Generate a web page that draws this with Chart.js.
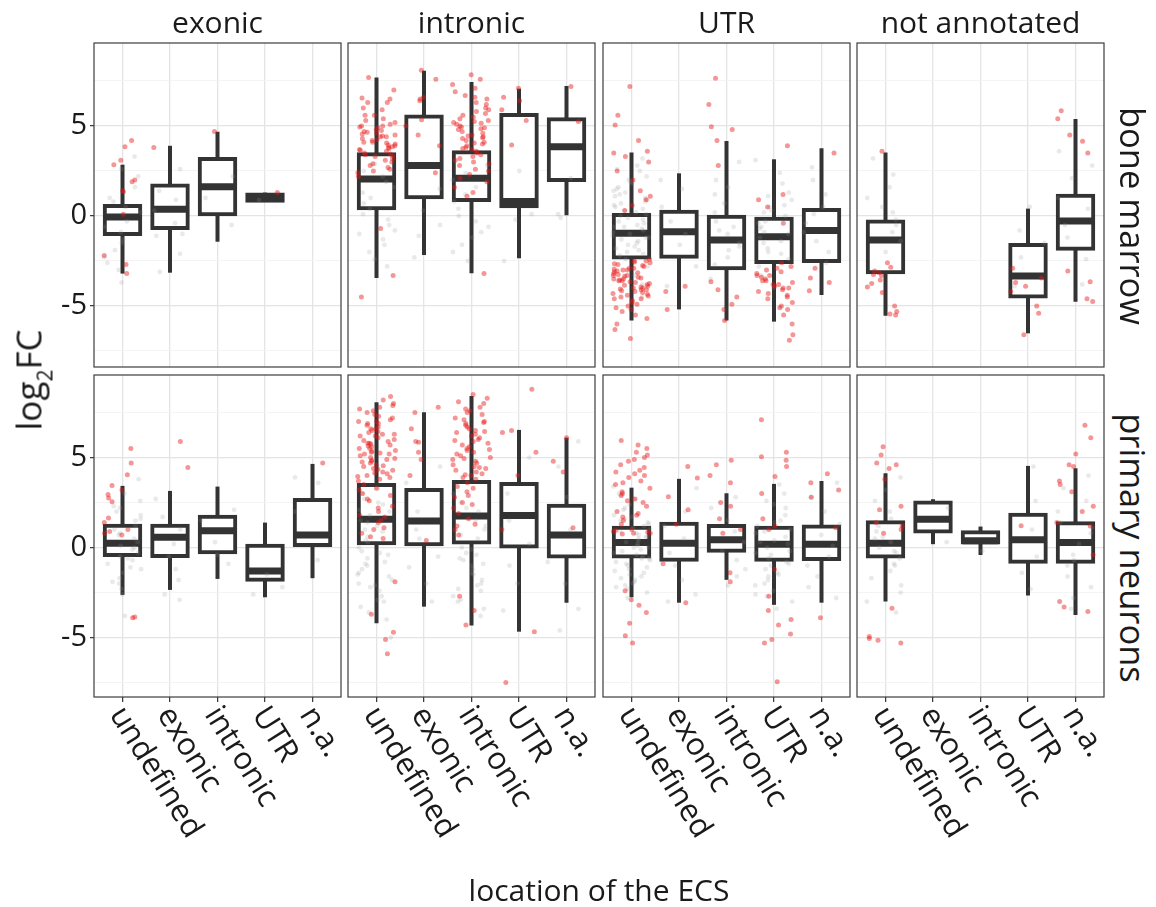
<!DOCTYPE html>
<html>
<head>
<meta charset="utf-8">
<script src="https://cdn.jsdelivr.net/npm/chart.js@4.4.1/dist/chart.umd.min.js"></script>
<style>
  html, body { margin: 0; background: #fff; }
  #fig { position: relative; width: 1156px; height: 907px; overflow: hidden; font-family: 'Open Sans', sans-serif; color: #1a1a1a; }
  .lbl { position: absolute; white-space: nowrap; line-height: 1; }
  .sub { font-size: 0.6em; position: relative; top: 0.5em; }
</style>
</head>
<body>
<div id="fig"></div>
<script>
const locations = ['undefined', 'exonic', 'intronic', 'UTR', 'n.a.'];
const ecsTypes = ['exonic', 'intronic', 'UTR', 'not annotated'];
const tissues = ['bone marrow', 'primary neurons'];
const yMajor = [-5, 0, 5];
const yMinor = [-7.5, -2.5, 2.5, 7.5];

// box stats per location: [lower whisker, Q1, median, Q3, upper whisker], null = no ECS
// *Sig = significant ECS (red), *Rest = the others (grey)

// bone marrow
const bmExonicBox = [
  [-3.2, -1.0, -0.05, 0.55, 2.85],
  [-3.15, -0.67, 0.37, 1.7, 3.9],
  [-1.43, 0.1, 1.63, 3.17, 4.68],
  [0.8, 0.85, 1.02, 1.2, 1.3],
  null
];
const bmExonicSig = [
  [4.2, 3.85, 3.1, 2.85, 2.0, 1.9, 1.4, 1.35, 0.1, -2.2, -2.7, -3.2],
  [3.8],
  [4.7],
  [1.3],
  []
];
const bmExonicRest = [
  [3.3, 2.6, 2.2, 1.6, 1.0, 0.8, 0.5, 0.2, -0.3, -0.6, -0.9, -1.3, -1.5, -1.9, -2.3, -2.6, -3.0, -3.7],
  [2.6, 1.4, 0.9, 0.3, -0.4, -1.0, -1.1, -2.1, -3.1],
  [2.2, 1.0, -0.5],
  [0.9],
  []
];

const bmIntronicBox = [
  [-3.45, 0.43, 2.06, 3.43, 7.7],
  [-2.17, 1.04, 2.8, 5.52, 8.07],
  [-3.18, 0.89, 2.09, 3.54, 7.44],
  [-2.35, 0.54, 0.8, 5.61, 7.07],
  [0.0, 2.0, 3.85, 5.37, 7.22]
];
const bmIntronicSig = [
  [7.7, 7.0, 6.55, 6.5, 6.3, 6.0, 5.9, 5.6, 5.4, 5.3, 5.2, 5.1, 5.0, 4.95, 4.9, 4.8, 4.7, 4.65, 4.6, 4.5,
   4.45, 4.4, 4.3, 4.25, 4.2, 4.1, 4.05, 4.0, 3.95, 3.9, 3.8, 3.75, 3.7, 3.6, 3.5, 3.45, 3.4, 3.3, 3.2, 3.1,
   3.0, 2.9, 2.8, 2.7, 2.6, 2.5, 2.4, 2.2, 4.4, 4.1, 3.85, 3.65, 3.35, 5.0, 4.75, 4.55, 6.3, 5.6,
   -0.7, -3.3, -4.5],
  [8.1, 7.6, 6.6, 6.5, 6.4, 5.35, 5.0, 4.5, 3.9, 2.4],
  [7.85, 7.6, 7.3, 7.1, 6.9, 6.7, 6.6, 6.5, 6.3, 6.2, 6.0, 5.9, 5.8, 5.7, 5.6, 5.5, 5.4, 5.3, 5.2, 5.15,
   5.1, 5.0, 4.9, 4.85, 4.8, 4.7, 4.6, 4.5, 4.45, 4.4, 4.3, 4.2, 4.1, 4.0, 3.9, 3.8, 3.7, 3.6, 3.5, 3.4,
   3.3, 3.2, 3.1, 3.0, 2.9, 2.8, 2.6, 2.5, 2.3, 2.1, 1.9, 1.6, 1.3, 1.1, 4.35, 4.05, 3.75, 5.25, 4.95,
   -3.2],
  [7.1, 6.6, 6.4, 5.9, 5.3, 3.95],
  [7.2, 5.25]
];
const bmIntronicRest = [
  [2.9, 2.5, 2.2, 1.9, 1.6, 1.3, 1.0, 0.7, 0.4, 0.1, -0.2, -0.5, -0.8, -1.0, -1.3, -1.6, -2.0, -2.4, -2.8],
  [1.5, 0.3, -0.5, -1.1, -2.3],
  [2.8, 2.4, 2.0, 1.6, 1.2, 0.8, 0.4, 0.0, -0.3, -0.6, -0.9, -1.2, -1.6, -2.0, -2.5],
  [2.5, 0.1, -0.2, -2.5],
  [2.1, 0.1, -0.1]
];

const bmUtrBox = [
  [-5.81, -2.3, -0.96, 0.06, 3.52],
  [-5.19, -2.26, -0.87, 0.24, 2.37],
  [-5.81, -2.91, -1.33, 0.0, 4.17],
  [-5.87, -2.56, -1.15, -0.15, 3.15],
  [-4.39, -2.5, -0.81, 0.33, 3.76]
];
const bmUtrSig = [
  [7.2, 5.6, 5.05, 4.2, 3.6, 3.5, 3.3, 3.0, 2.5, 2.0, 1.4, 1.1, 0.9, 0.6, 0.3, -2.4, -2.5, -2.6, -2.7, -2.8,
   -2.9, -3.0, -3.05, -3.1, -3.2, -3.25, -3.3, -3.4, -3.45, -3.5, -3.6, -3.65, -3.7, -3.8, -3.85, -3.9, -4.0,
   -4.05, -4.1, -4.2, -4.3, -4.35, -4.4, -4.5, -4.6, -4.7, -4.8, -4.9, -5.0, -5.1, -5.3, -5.5, -5.7, -6.0,
   -6.3, -6.8, -2.55, -2.75, -2.95, -3.15, -3.35, -3.55, -3.75, -3.95, -4.15, -4.25, -4.45, -2.65, -3.0,
   -3.5, -4.0, -3.3, -2.9, -3.6, -4.1, -2.5, -4.6, -5.2],
  [-3.9, -4.2, -5.2],
  [7.65, 6.2, 4.96, 4.8, 4.2, 2.8, -3.65, -4.1, -4.5, -4.9, -5.2, -5.8],
  [3.9, 1.2, 0.9, 0.5, -0.4, -2.6, -2.8, -3.0, -3.2, -3.3, -3.5, -3.6, -3.7, -3.8, -3.9, -4.0, -4.1, -4.2,
   -4.4, -4.6, -4.8, -5.0, -5.2, -5.5, -6.0, -6.6, -6.9, -3.1, -3.4, -3.6, -4.0, -4.3, -2.9, -3.8, -4.5,
   -5.1, -3.3],
  [3.5, -2.9, -3.45, -3.7, -4.15]
];
const bmUtrRest = [
  [3.2, 2.8, 2.5, 2.2, 2.0, 1.8, 1.6, 1.4, 1.2, 1.1, 1.0, 0.8, 0.7, 0.6, 0.4, 0.3, 0.2, 0.0, -0.1, -0.2,
   -0.4, -0.5, -0.6, -0.8, -0.9, -1.0, -1.2, -1.3, -1.4, -1.6, -1.7, -1.8, -2.0, -2.2, -2.4, -2.8, -3.3,
   -3.8, -4.5, 2.6, 1.9, 1.5, 0.9, 0.5, 0.1, -0.3, -0.7, -1.1, -1.5, -1.9, -2.1, 1.3, -0.6, -1.2],
  [2.0, 1.5, 0.5, -0.3, -1.0, -1.6, -2.8, -3.9],
  [3.0, 2.0, 1.2, 0.7, 0.2, -0.3, -0.6, -1.0, -1.5, -1.9, -2.3, -2.7, -3.5, 1.6, -0.8, -1.7],
  [3.1, 2.4, 1.8, 1.3, 0.9, 0.6, 0.5, 0.3, 0.0, -0.3, -0.4, -0.6, -0.9, -1.0, -1.2, -1.5, -1.8, -2.1,
   -2.4, -2.8, -3.3, -4.0, 1.1, 0.2, -0.7, -1.4, -2.0],
  [2.7, 2.0, 1.2, 0.5, 0.1, -0.4, -0.9, -1.4, -2.0, -2.6]
];

const bmNaBox = [
  [-5.54, -3.13, -1.33, -0.3, 3.52],
  null,
  null,
  [-6.52, -4.48, -3.33, -1.61, 0.41],
  [-4.76, -1.82, -0.28, 1.13, 5.39]
];
const bmNaSig = [
  [3.6, -2.6, -2.85, -3.05, -3.15, -3.25, -3.3, -3.55, -3.75, -3.95, -4.25, -5.0, -5.3, -5.45, -5.5],
  [],
  [],
  [-2.9, -3.45, -3.7, -3.9, -4.2, -5.0, -5.4, -6.6],
  [5.85, 5.4, 4.5, 4.15, 3.5, -3.05, -3.65, -4.6, -4.75]
];
const bmNaRest = [
  [3.2, 2.3, 1.6, 1.0, 0.5, 0.2, -0.2, -0.5, -0.9, -1.4, -2.0],
  [],
  [],
  [0.5, -0.8, -1.5, -2.3, -3.9],
  [3.6, 2.8, 2.1, 1.0, 0.4, -0.5, -1.2, -2.4, -3.8]
];

// primary neurons
const pnExonicBox = [
  [-2.63, -0.41, 0.24, 1.22, 3.43],
  [-2.35, -0.46, 0.58, 1.22, 3.15],
  [-1.74, -0.26, 0.94, 1.72, 3.39],
  [-2.76, -1.79, -1.3, 0.11, 1.39],
  [-1.7, 0.15, 0.7, 2.65, 4.65]
];
const pnExonicSig = [
  [5.5, 4.7, 4.05, 3.45, 3.2, 2.95, 2.75, 2.55, 1.65, 1.4, 1.0, 0.9, 0.8, 0.7, -3.85, -3.9],
  [5.9, 4.45],
  [],
  [],
  [4.7]
];
const pnExonicRest = [
  [3.8, 3.0, 2.6, 2.3, 2.0, 1.8, 1.5, 1.2, 1.0, 0.7, 0.5, 0.3, 0.1, -0.1, -0.3, -0.5, -0.7, -0.9, -1.1,
   -1.4, -1.7, -2.0, -2.3, -2.6, -3.8, 2.2, 1.6, 0.8, 0.0, -0.6, -1.2, -1.9],
  [2.7, 1.7, 1.0, 0.2, -0.5, -1.2, -1.8, -2.6, -2.9],
  [2.1, 1.5, 0.3, -0.4, -0.9],
  [-1.5, -2.2, -2.6],
  [3.9, 3.6, 2.0, -0.7]
];

const pnIntronicBox = [
  [-4.2, 0.24, 1.58, 3.48, 8.07],
  [-3.28, 0.19, 1.48, 3.2, 7.52],
  [-4.33, 0.28, 1.76, 3.65, 8.43],
  [-4.67, 0.06, 1.78, 3.54, 6.54],
  [-3.06, -0.5, 0.7, 2.33, 6.11]
];
const pnIntronicSig = [
  [8.4, 8.2, 8.0, 7.8, 7.7, 7.6, 7.5, 7.4, 7.3, 7.2, 7.1, 7.0, 6.9, 6.8, 6.7, 6.6, 6.5, 6.45, 6.4, 6.3,
   6.2, 6.1, 6.0, 5.95, 5.9, 5.8, 5.7, 5.65, 5.6, 5.5, 5.4, 5.35, 5.3, 5.2, 5.1, 5.0, 4.95, 4.9, 4.8, 4.7,
   4.6, 4.5, 4.4, 4.3, 4.2, 4.1, 4.0, 3.9, 3.7, 3.5, 3.2, 2.9, 2.6, 2.3, 2.0, 1.7, 1.4, 1.1, 0.8, 0.5,
   7.9, 7.0, 6.6, 6.2, 5.8, 5.5, 5.2, 4.85, 4.55, 4.35, 4.15, 3.95, 3.8, 6.9, 6.3, 5.75, 5.25, 4.75,
   3.3, 3.0, 2.7, 2.2, 1.8, 1.5, 1.0, 0.6, -1.9, -3.7, -4.7, -5.1, -5.9],
  [7.8, 7.5, 6.6, 5.9, 5.85, 5.3, 4.9, 4.0, 0.4],
  [8.5, 8.3, 8.1, 8.0, 7.8, 7.6, 7.5, 7.4, 7.2, 7.1, 7.0, 6.9, 6.8, 6.7, 6.6, 6.5, 6.4, 6.3, 6.2, 6.1,
   6.0, 5.9, 5.8, 5.7, 5.6, 5.5, 5.4, 5.3, 5.2, 5.1, 5.0, 4.9, 4.8, 4.7, 4.6, 4.5, 4.4, 4.3, 4.2, 4.1,
   4.0, 3.9, 3.8, 3.6, 3.4, 3.1, 2.8, 2.5, 2.2, 1.9, 1.6, 1.3, 1.0, 0.7, 7.7, 6.95, 6.45, 5.95, 5.45,
   4.95, 4.45, 4.05, 3.3, 2.9, 2.4, 1.2, -2.7, -3.5, -4.3],
  [8.8, 6.5, 6.4, 5.3, 4.0, 1.0, -4.67, -7.5],
  [6.1, 4.8, 4.2, 1.1]
];
const pnIntronicRest = [
  [3.3, 3.0, 2.7, 2.5, 2.4, 2.1, 2.0, 1.8, 1.5, 1.2, 1.0, 0.9, 0.6, 0.3, 0.0, -0.2, -0.3, -0.6, -0.8,
   -0.9, -1.2, -1.4, -1.5, -1.8, -2.0, -2.1, -2.4, -2.7, -3.0, -3.3, -3.6, -4.0, -5.0, -0.4, -1.0, -1.6,
   -2.2, -2.9, 0.4, 1.4],
  [4.5, 3.6, 2.0, 1.0, 0.5, -0.5, -1.1, -2.0, -3.0],
  [3.0, 2.5, 2.2, 2.0, 1.5, 1.2, 1.0, 0.5, 0.0, -0.1, -0.3, -0.6, -0.7, -0.9, -1.0, -1.2, -1.5, -1.8,
   -2.0, -2.1, -2.4, -2.7, -3.0, -3.4, -3.8, -0.4, -1.4, -2.3, -2.9, 0.7],
  [5.0, 3.0, 1.5, 0.2, -1.0, -2.0, -3.5],
  [5.9, 4.5, 2.8, 1.0, -0.8, -2.0, -3.4, -4.6]
];

const pnUtrBox = [
  [-2.76, -0.5, 0.28, 1.11, 3.33],
  [-3.06, -0.68, 0.24, 1.32, 3.82],
  [-1.79, -0.18, 0.43, 1.2, 3.02],
  [-3.18, -0.68, 0.19, 1.11, 3.54],
  [-3.06, -0.63, 0.19, 1.17, 3.7]
];
const pnUtrSig = [
  [5.95, 5.7, 5.3, 5.15, 5.0, 4.8, 4.6, 4.45, 4.3, 4.2, 4.0, 3.9, 3.7, 3.5, 3.3, 3.1, 2.9, 2.7, 2.5, 2.3,
   2.0, 1.8, 1.5, 1.3, 1.0, 0.9, 0.85, 0.8, 0.75, 5.5, 4.9, 4.1, 3.6, 3.0, 2.6, 1.9, 1.7, 0.95, 0.8,
   -2.4, -2.9, -3.2, -3.6, -4.2, -4.9, -5.3],
  [4.5, 3.87, 2.83, 2.1, 1.3, -0.9, -3.06],
  [4.85, 4.6, 4.0, 3.6, 2.5, 2.3, 1.6, 1.0, 0.8, -1.4, -1.9],
  [7.1, 5.3, 5.05, 4.85, 4.5, 3.95, 3.0, 1.6, 1.2, 1.0, -1.2, -2.7, -3.5, -4.0, -4.3, -4.8, -5.1, -5.3, -7.45],
  [4.1, 3.6, 3.2, 2.8, 1.1, -3.9]
];
const pnUtrRest = [
  [3.4, 3.0, 2.7, 2.4, 2.1, 1.8, 1.6, 1.4, 1.3, 1.2, 1.0, 0.9, 0.8, 0.6, 0.5, 0.4, 0.2, 0.1, 0.0, -0.2,
   -0.3, -0.4, -0.6, -0.7, -0.8, -1.0, -1.2, -1.4, -1.5, -1.6, -1.8, -2.0, -2.1, -2.2, -2.5, -2.8,
   2.9, 2.2, 1.7, 1.1, 0.7, 0.3, -0.1, -0.5, -0.9, -1.3, -1.7, -2.3, 0.6, 0.0, -0.6, -1.1, 1.5, -1.9],
  [3.3, 2.0, 1.2, 0.5, -0.3, -1.0, -1.8, -2.6, -3.0],
  [2.8, 2.2, 1.5, 0.9, 0.3, -0.2, -0.7, -1.2, -1.6, -2.1],
  [3.5, 3.0, 2.6, 2.2, 1.8, 1.5, 1.4, 1.2, 0.9, 0.8, 0.6, 0.3, 0.2, 0.0, -0.3, -0.4, -0.6, -0.9, -1.0,
   -1.2, -1.5, -1.6, -1.8, -2.1, -2.4, -2.7, -3.0, -3.4, 2.4, 1.0, 0.4, -0.2, -0.8, -1.4, -2.0, -2.6],
  [3.6, 2.8, 2.0, 1.3, 0.7, 0.1, -0.5, -1.0, -1.6, -2.2, -2.8]
];

const pnNaBox = [
  [-3.0, -0.5, 0.24, 1.41, 4.13],
  [0.19, 0.89, 1.58, 2.5, 2.69],
  [-0.41, 0.28, 0.38, 0.85, 1.17],
  [-2.66, -0.78, 0.43, 1.82, 4.54],
  [-3.74, -0.78, 0.28, 1.35, 4.41]
];
const pnNaSig = [
  [5.6, 5.15, 4.7, 4.6, 4.4, 3.8, 2.3, 2.1, 1.4, 1.2, 1.0, 0.8, -3.37, -4.94, -5.05, -5.15, -5.3],
  [],
  [],
  [1.22],
  [6.8, 6.1, 5.2, 4.6, 4.5, 3.7, 3.5, 3.1, 2.3, 2.0, 1.4, 1.2, -0.4, -3.0, -3.3, -3.55]
];
const pnNaRest = [
  [3.9, 3.2, 2.6, 2.0, 1.6, 1.2, 0.9, 0.6, 0.3, 0.0, -0.3, -0.6, -0.9, -1.3, -1.7, -2.1, -2.5, -3.0, -3.6,
   1.4, 0.5, -0.2, -1.0],
  [2.2, 0.3],
  [-0.2],
  [4.5, 2.6, 1.0, -0.5, -1.4, -2.3],
  [4.0, 3.3, 2.6, 2.0, 1.4, 0.8, 0.2, -0.4, -1.0, -1.6, -2.2, -2.8, -3.4, 1.1, -0.7]
];

// page geometry (px)
const PANEL_X = [94, 348, 603, 857];
const PANEL_W = 247;
const PANEL_Y = [43, 375];
const PANEL_H = [324, 322];
const Y_LIMITS = [[-8.39, 9.61], [-8.3, 9.59]];
const EDGE = 4;
const FIG_H = 907;
const BOX_W = 35.5;

const TEXT = '#1a1a1a';
const INK = '#333333';
const FRAME = '#3d3d3d';
const GRID_MAJOR = '#e4e4e4';
const GRID_MINOR = '#f1f1f1';
const RED = 'rgba(232, 22, 22, 0.45)';
const GREY = 'rgba(145, 145, 145, 0.2)';

Chart.defaults.font.family = "'Open Sans', sans-serif";

// deterministic sideways scatter of points inside their location column
function spread(k, i, seed) {
  const s = Math.sin((k + 1) * 12.9898 + (i + 1) * 78.233 + seed * 37.719) * 43758.5453;
  return s - Math.floor(s);
}

function jitter(groups, seed) {
  const pts = [];
  groups.forEach((ys, i) => {
    ys.forEach((y, k) => {
      pts.push({ x: i + 1 + (spread(k, i, seed) - 0.5) * 0.8, y });
    });
  });
  return pts;
}

function boxDatasets(box, sig, rest, seed) {
  const present = box.map((b, i) => b && { x: i + 1, b }).filter(Boolean);
  return [
    {
      type: 'scatter', order: 0, data: jitter(sig, seed),
      backgroundColor: RED, pointRadius: 2.5, pointBorderWidth: 0
    },
    {
      type: 'scatter', order: 1, data: jitter(rest, seed + 0.5),
      backgroundColor: GREY, pointRadius: 2.4, pointBorderWidth: 0
    },
    {
      // median bar
      type: 'scatter', order: 2, data: present.map(p => ({ x: p.x, y: p.b[2] })),
      pointStyle: 'line', pointRadius: BOX_W / 2, pointBorderWidth: 7, pointBorderColor: INK
    },
    {
      // Q1..Q3 box
      type: 'bar', order: 3, data: present.map(p => ({ x: p.x, y: [p.b[1], p.b[3]] })),
      backgroundColor: '#ffffff', borderColor: INK, borderWidth: 4, borderSkipped: false,
      inflateAmount: 2, barThickness: BOX_W, maxBarThickness: BOX_W, grouped: false
    },
    {
      // whiskers
      type: 'bar', order: 4, data: present.map(p => ({ x: p.x, y: [p.b[0], p.b[4]] })),
      backgroundColor: INK, borderWidth: 0, inflateAmount: 0,
      barThickness: 4, maxBarThickness: 4, grouped: false
    }
  ];
}

const panelFrame = {
  id: 'panelFrame',
  afterDraw(chart) {
    const { ctx, chartArea: a } = chart;
    ctx.save();
    ctx.strokeStyle = FRAME;
    ctx.lineWidth = 1.2;
    ctx.strokeRect(a.left, a.top, a.right - a.left, a.bottom - a.top);
    ctx.restore();
  }
};

// location names under the bottom row, slanted down to the right
const slantedLabels = {
  id: 'slantedLabels',
  afterDraw(chart, args, opts) {
    if (!opts.display) return;
    const { ctx, chartArea } = chart;
    const scale = chart.scales.x;
    ctx.save();
    ctx.font = "31px 'Open Sans'";
    ctx.fillStyle = TEXT;
    ctx.textAlign = 'left';
    ctx.textBaseline = 'alphabetic';
    scale.ticks.forEach(tick => {
      ctx.save();
      ctx.translate(scale.getPixelForValue(tick.value), chartArea.bottom + 9);
      ctx.rotate(58 * Math.PI / 180);
      ctx.fillText(locations[tick.value - 1], 0, 16);
      ctx.restore();
    });
    ctx.restore();
  }
};

const isMajor = v => yMajor.includes(v);

const panels = [
  [[bmExonicBox, bmExonicSig, bmExonicRest], [bmIntronicBox, bmIntronicSig, bmIntronicRest],
   [bmUtrBox, bmUtrSig, bmUtrRest], [bmNaBox, bmNaSig, bmNaRest]],
  [[pnExonicBox, pnExonicSig, pnExonicRest], [pnIntronicBox, pnIntronicSig, pnIntronicRest],
   [pnUtrBox, pnUtrSig, pnUtrRest], [pnNaBox, pnNaSig, pnNaRest]]
];

const fig = document.getElementById('fig');

panels.forEach((row, r) => row.forEach(([box, sig, rest], c) => {
  const padLeft = c === 0 ? PANEL_X[0] : EDGE;
  const padBottom = r === 1 ? FIG_H - PANEL_Y[1] - PANEL_H[1] : EDGE;
  const canvas = document.createElement('canvas');
  canvas.width = padLeft + PANEL_W + EDGE;
  canvas.height = EDGE + PANEL_H[r] + padBottom;
  canvas.style.position = 'absolute';
  canvas.style.left = (PANEL_X[c] - padLeft) + 'px';
  canvas.style.top = (PANEL_Y[r] - EDGE) + 'px';
  fig.appendChild(canvas);

  new Chart(canvas, {
    type: 'bar',
    data: { datasets: boxDatasets(box, sig, rest, r * 1.7 + c * 0.9) },
    plugins: [panelFrame, slantedLabels],
    options: {
      responsive: false,
      animation: false,
      events: [],
      layout: {
        autoPadding: false,
        padding: { top: EDGE, right: EDGE, left: c === 0 ? 0 : EDGE, bottom: r === 1 ? 0 : EDGE }
      },
      plugins: {
        legend: { display: false },
        tooltip: { enabled: false },
        slantedLabels: { display: r === 1 }
      },
      scales: {
        x: {
          type: 'linear', min: 0.4, max: 5.6, offset: false,
          afterBuildTicks: s => { s.ticks = locations.map((_, i) => ({ value: i + 1 })); },
          afterFit: s => { s.height = r === 1 ? padBottom : 0; s.paddingLeft = 0; s.paddingRight = 0; },
          ticks: { display: false },
          grid: {
            offset: false, color: GRID_MAJOR, lineWidth: 1.3,
            drawTicks: r === 1, tickLength: 5, tickColor: INK, tickWidth: 1.2
          },
          border: { display: false }
        },
        y: {
          type: 'linear', min: Y_LIMITS[r][0], max: Y_LIMITS[r][1],
          afterBuildTicks: s => {
            s.ticks = yMinor.concat(yMajor).sort((a, b) => a - b).map(v => ({ value: v }));
          },
          afterFit: s => { s.width = c === 0 ? PANEL_X[0] : 0; s.paddingTop = 0; s.paddingBottom = 0; },
          ticks: {
            display: c === 0, padding: 3, color: TEXT,
            font: { size: 29 },
            callback: v => isMajor(v) ? String(v) : ''
          },
          grid: {
            color: ctx => ctx.tick && isMajor(ctx.tick.value) ? GRID_MAJOR : GRID_MINOR,
            lineWidth: ctx => ctx.tick && isMajor(ctx.tick.value) ? 1.3 : 0.8,
            drawTicks: c === 0, tickLength: 4, tickWidth: 1.2,
            tickColor: ctx => ctx.tick && isMajor(ctx.tick.value) ? INK : 'rgba(0,0,0,0)'
          },
          border: { display: false }
        }
      }
    }
  });
}));

// facet strips and axis titles
function addLabel(html, size, css) {
  const d = document.createElement('div');
  d.className = 'lbl';
  d.innerHTML = html;
  d.style.fontSize = size + 'px';
  Object.assign(d.style, css);
  fig.appendChild(d);
}

ecsTypes.forEach((name, c) => {
  addLabel(name, 30, {
    left: PANEL_X[c] + 'px', width: PANEL_W + 'px', textAlign: 'center',
    top: (33.3 - 0.888 * 30) + 'px'
  });
});

const stripY = [216, 548];
tissues.forEach((name, r) => {
  addLabel(name, 34.5, {
    left: '1133.4px', top: stripY[r] + 'px',
    transform: 'translate(-50%, -50%) rotate(90deg)'
  });
});

addLabel('log<span class="sub">2</span>FC', 35, {
  left: '28.4px', top: '380px',
  transform: 'translate(-50%, -50%) rotate(-90deg)'
});

addLabel('location of the ECS', 30, {
  left: PANEL_X[0] + 'px', width: (PANEL_X[3] + PANEL_W - PANEL_X[0]) + 'px', textAlign: 'center',
  top: (901.5 - 0.888 * 30) + 'px'
});
</script>
</body>
</html>
